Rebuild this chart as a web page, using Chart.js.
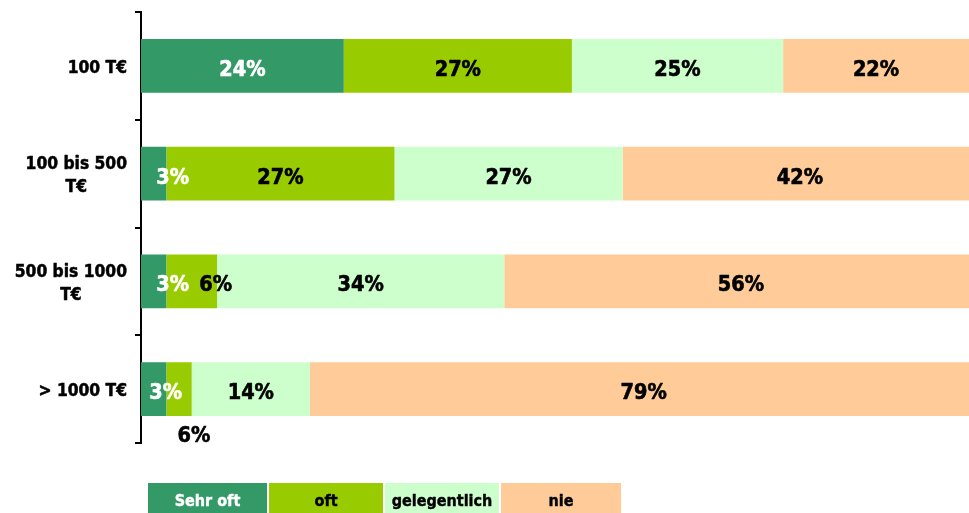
<!DOCTYPE html>
<html><head><meta charset="utf-8">
<script src="https://cdn.jsdelivr.net/npm/chart.js@4/dist/chart.umd.min.js"></script>
<style>html,body{margin:0;padding:0;background:#fff;overflow:hidden}#wrap{position:relative;width:969px;height:513px}</style>
</head><body><div id="wrap"><canvas id="c" width="969" height="513"></canvas></div>
<script>
const categories = ['100 T€', ['100 bis 500', 'T€'], ['500 bis 1000', 'T€'], '> 1000 T€'];
const seriesNames = ['Sehr oft', 'oft', 'gelegentlich', 'nie'];
const sehrOft = [24, 3, 3, 3];
const oft = [27, 27, 6, 3];            // bar widths as drawn
const oftPrinted = ['27%', '27%', '6%', '6%']; // labels as printed in the chart
const gelegentlich = [25, 27, 34, 14];
const nie = [22, 42, 56, 79];
const seriesColors = ['#339966', '#99CC00', '#CCFFCC', '#FFCC99'];

const FONT = '"DejaVu Sans Condensed", "DejaVu Sans", Verdana, sans-serif';

const pct = v => v + '%';
const datasets = [
  { label: seriesNames[0], data: sehrOft, backgroundColor: seriesColors[0], labels: sehrOft.map(pct), labelColor: '#fff' },
  { label: seriesNames[1], data: oft, backgroundColor: seriesColors[1], labels: oftPrinted, labelColor: '#000' },
  { label: seriesNames[2], data: gelegentlich, backgroundColor: seriesColors[2], labels: gelegentlich.map(pct), labelColor: '#000' },
  { label: seriesNames[3], data: nie, backgroundColor: seriesColors[3], labels: nie.map(pct), labelColor: '#000' }
];

// manual label nudges [dx, dy] (dataset -> index)
const labelNudge = {
  0: { 1: [19, 0], 2: [19, 0], 3: [12, 0] },
  1: { 2: [24, 0], 3: [15, 43] }
};

function heavyText(ctx, t, x, y, color, w) {
  ctx.fillStyle = color;
  ctx.strokeStyle = color;
  ctx.lineWidth = w;
  ctx.lineJoin = 'round';
  ctx.strokeText(t, x, y);
  ctx.fillText(t, x, y);
}

const barLabels = {
  id: 'barLabels',
  afterDatasetsDraw(chart) {
    const ctx = chart.ctx;
    ctx.save();
    ctx.font = 'bold 21.5px ' + FONT;
    ctx.textAlign = 'center';
    ctx.textBaseline = 'alphabetic';
    chart.data.datasets.forEach((ds, i) => {
      const meta = chart.getDatasetMeta(i);
      meta.data.forEach((bar, j) => {
        const p = bar.getProps(['x', 'y', 'base'], true);
        const n = (labelNudge[i] && labelNudge[i][j]) || [0, 0];
        heavyText(ctx, ds.labels[j], (p.x + p.base) / 2 + n[0], p.y + 10 + n[1], ds.labelColor, 0.6);
      });
    });
    ctx.restore();
  }
};

const catLabels = {
  id: 'catLabels',
  afterDraw(chart) {
    const ctx = chart.ctx;
    const ys = chart.scales.y;
    ctx.save();
    ctx.font = 'bold 17.3px ' + FONT;
    ctx.textAlign = 'center';
    ctx.textBaseline = 'alphabetic';
    const right = 127, lh = 22.5;
    chart.data.labels.forEach((lab, j) => {
      const lines = Array.isArray(lab) ? lab : [lab];
      const w = Math.max(...lines.map(l => ctx.measureText(l).width));
      const cx = right - w / 2;
      const yc = ys.getPixelForValue(j);
      lines.forEach((l, k) => {
        heavyText(ctx, l, cx, yc + 7 - (lines.length - 1) * lh / 2 + k * lh, '#000', 0.5);
      });
    });
    ctx.restore();
  }
};

const boxLegend = {
  id: 'boxLegend',
  afterDraw(chart) {
    const ctx = chart.ctx;
    ctx.save();
    ctx.font = 'bold 16px ' + FONT;
    ctx.textAlign = 'center';
    ctx.textBaseline = 'alphabetic';
    const widths = [119, 114, 114, 120];
    let x = 148;
    chart.data.datasets.forEach((ds, i) => {
      ctx.fillStyle = ds.backgroundColor;
      ctx.fillRect(x, 483, widths[i], 32);
      heavyText(ctx, ds.label, x + widths[i] / 2, 506, i === 0 ? '#fff' : '#000', 0.4);
      x += widths[i] + 2;
    });
    ctx.restore();
  }
};

new Chart(document.getElementById('c'), {
  type: 'bar',
  data: { labels: categories, datasets },
  options: {
    indexAxis: 'y',
    responsive: false,
    animation: false,
    barPercentage: 0.5,
    categoryPercentage: 1.0,
    borderWidth: 0,
    layout: { padding: { top: 12, bottom: 70, left: 0, right: 0 } },
    plugins: { legend: { display: false }, tooltip: { enabled: false } },
    scales: {
      x: { stacked: true, display: false, min: 0, max: 98 },
      y: {
        stacked: true,
        offset: true,
        grid: { display: true, offset: true, drawOnChartArea: false, drawTicks: true, tickLength: 6, color: '#000', lineWidth: 2 },
        border: { display: true, color: '#000', width: 2 },
        ticks: { display: false },
        afterFit(s) { s.width = 141; }
      }
    }
  },
  plugins: [barLabels, catLabels, boxLegend]
});
</script>
</body></html>
